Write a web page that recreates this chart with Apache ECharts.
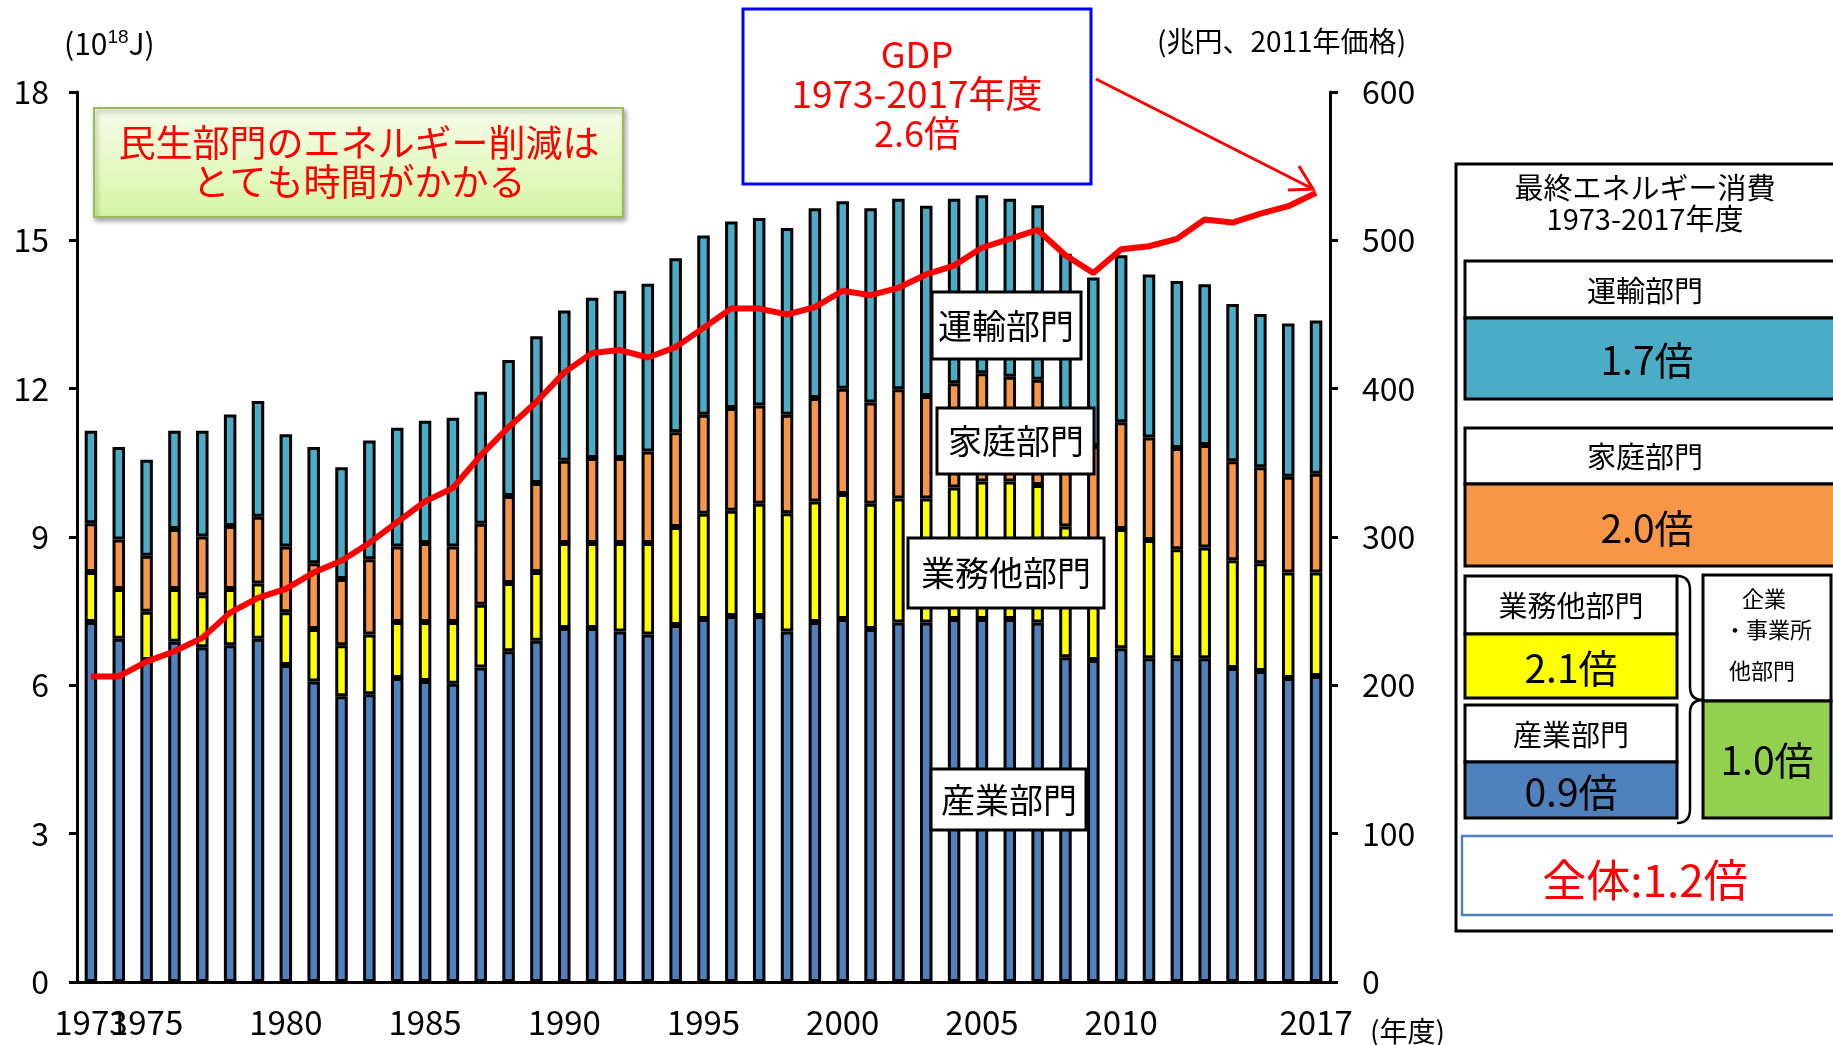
<html>
<head>
<meta charset="utf-8">
<script src="https://cdn.jsdelivr.net/npm/echarts@6/dist/echarts.min.js"></script>
<style>
html, body { width: 100%; height: 100%; margin: 0; background: #fff; }
#main { width: 1833px; height: 1045px; }
</style>
</head>
<body>
<div id="main"></div>
<script>
// 年度
var years = [];
for (var y = 1973; y <= 2017; y++) years.push(String(y));
var shownYears = ['1973', '1975', '1980', '1985', '1990', '1995', '2000', '2005', '2010', '2017'];

// 最終エネルギー消費 (10^18 J)
var industry = [7.28, 6.94, 6.51, 6.88, 6.77, 6.81, 6.94, 6.41, 6.08, 5.78, 5.82, 6.15, 6.09, 6.03, 6.36, 6.69, 6.90, 7.16, 7.16, 7.09, 7.03, 7.22, 7.34, 7.40, 7.40, 7.09, 7.28, 7.34, 7.14, 7.27, 7.27, 7.34, 7.34, 7.34, 7.27, 6.57, 6.51, 6.75, 6.55, 6.55, 6.55, 6.35, 6.29, 6.15, 6.19];
var commercial = [1.01, 1.01, 0.98, 1.07, 1.05, 1.14, 1.12, 1.07, 1.06, 1.03, 1.21, 1.13, 1.19, 1.25, 1.27, 1.38, 1.39, 1.72, 1.72, 1.79, 1.85, 1.98, 2.13, 2.13, 2.27, 2.39, 2.44, 2.53, 2.53, 2.51, 2.51, 2.66, 2.78, 2.78, 2.78, 2.64, 2.39, 2.41, 2.39, 2.20, 2.24, 2.18, 2.18, 2.13, 2.09];
var household = [0.99, 1.00, 1.13, 1.21, 1.19, 1.27, 1.35, 1.33, 1.33, 1.34, 1.52, 1.53, 1.60, 1.53, 1.64, 1.76, 1.80, 1.66, 1.72, 1.72, 1.85, 1.92, 2.00, 2.08, 1.99, 1.99, 2.09, 2.13, 2.05, 2.21, 2.07, 2.11, 2.19, 2.12, 2.13, 2.04, 1.94, 2.16, 2.07, 2.05, 2.07, 2.00, 1.94, 1.94, 2.00];
var transport = [1.87, 1.87, 1.94, 1.99, 2.14, 2.26, 2.34, 2.27, 2.35, 2.26, 2.40, 2.40, 2.47, 2.60, 2.67, 2.75, 2.97, 3.04, 3.24, 3.38, 3.39, 3.52, 3.63, 3.77, 3.79, 3.78, 3.84, 3.79, 3.93, 3.85, 3.85, 3.73, 3.60, 3.60, 3.53, 3.48, 3.41, 3.38, 3.30, 3.38, 3.25, 3.18, 3.10, 3.10, 3.10];
// GDP (兆円、2011年価格)
var gdp = [206, 206, 216, 223, 232, 249, 259, 265, 276, 284, 296, 310, 324, 333, 355, 374, 391, 411, 424, 426, 421, 428, 441, 454, 454, 450, 455, 466, 463, 468, 477, 483, 495, 501, 507, 490, 478, 494, 496, 501, 514, 512, 518, 523, 532];

var FONT = '"Noto Sans CJK JP", "Noto Sans", sans-serif';

function barSeries(name, data, color) {
    return {
        name: name, type: 'bar', stack: 'e', data: data, barWidth: 12.5,
        itemStyle: { color: color, borderColor: '#000', borderWidth: 3 },
        z: 2
    };
}

function box(x, y, w, h, fill, stroke, lw) {
    return { type: 'rect', shape: { x: x, y: y, width: w, height: h },
             style: { fill: fill, stroke: stroke || '#000', lineWidth: lw || 3 }, z: 10 };
}
function txt(x, y, s, size, color, align) {
    return { type: 'text', x: x, y: y, z: 11,
             style: { text: s, font: size + 'px ' + FONT, fill: color || '#000',
                      align: align || 'center', verticalAlign: 'middle' } };
}
function curve(x1, y1, cx, cy, x2, y2) {
    return { type: 'bezierCurve', z: 11,
             shape: { x1: x1, y1: y1, cpx1: cx, cpy1: cy, x2: x2, y2: y2 },
             style: { stroke: '#000', lineWidth: 2.5, fill: null } };
}
function seg(x1, y1, x2, y2, color, lw) {
    return { type: 'line', z: 11, shape: { x1: x1, y1: y1, x2: x2, y2: y2 },
             style: { stroke: color || '#000', lineWidth: lw || 2.5 } };
}

var chart = echarts.init(document.getElementById('main'));
var option = {
    animation: false,
    textStyle: { fontFamily: FONT },
    grid: { left: 77, right: 503, top: 92, bottom: 63 },
    xAxis: {
        type: 'category', data: years,
        axisLine: { lineStyle: { color: '#000', width: 3 } },
        axisTick: { interval: 0, length: 9, lineStyle: { color: '#000', width: 2.5 } },
        axisLabel: {
            interval: 0, margin: 24, fontSize: 33, color: '#000', fontFamily: FONT,
            formatter: function (v) { return shownYears.indexOf(v) >= 0 ? v : ''; }
        }
    },
    yAxis: [
        {
            type: 'value', min: 0, max: 18, interval: 3,
            axisLine: { show: true, lineStyle: { color: '#000', width: 3 } },
            axisTick: { show: true, length: 8, lineStyle: { color: '#000', width: 3 } },
            axisLabel: { fontSize: 32, color: '#000', margin: 28, fontFamily: FONT },
            splitLine: { show: false }
        },
        {
            type: 'value', min: 0, max: 600, interval: 100,
            axisLine: { show: true, lineStyle: { color: '#000', width: 3 } },
            axisTick: { show: true, length: 8, lineStyle: { color: '#000', width: 3 } },
            axisLabel: { fontSize: 32, color: '#000', margin: 32, fontFamily: FONT },
            splitLine: { show: false }
        }
    ],
    series: [
        barSeries('産業部門', industry, '#4f81bd'),
        barSeries('業務他部門', commercial, '#ffff00'),
        barSeries('家庭部門', household, '#f79646'),
        barSeries('運輸部門', transport, '#4bacc6'),
        {
            name: 'GDP', type: 'line', yAxisIndex: 1, data: gdp, symbol: 'none',
            lineStyle: { color: '#ff0000', width: 6 }, z: 5
        }
    ],
    graphic: [
        // axis names
        { type: 'text', x: 64, y: 44, z: 11, style: {
            text: '(10{s|18}J)', font: '30px ' + FONT, fill: '#000', verticalAlign: 'middle',
            rich: { s: { fontSize: 19, verticalAlign: 'top', padding: [0, 0, 12, 0] } } } },
        txt(1157, 41, '(兆円、2011年価格)', 28, '#000', 'left'),
        txt(1370, 1031, '(年度)', 28, '#000', 'left'),

        // green note
        { type: 'rect', shape: { x: 94, y: 108, width: 529, height: 109 }, z: 10,
          style: {
            fill: new echarts.graphic.LinearGradient(0, 0, 0, 1, [
                { offset: 0, color: '#f6fdea' }, { offset: 1, color: '#d6f5a4' }]),
            stroke: '#9bbb59', lineWidth: 2,
            shadowBlur: 5, shadowOffsetX: 2, shadowOffsetY: 3, shadowColor: 'rgba(0,0,0,0.35)' } },
        txt(359, 143, '民生部門のエネルギー削減は', 37, '#ff0000'),
        txt(359, 182, 'とても時間がかかる', 37, '#ff0000'),

        // GDP note
        box(743, 9, 348, 175, '#fff', '#0000ff', 3),
        txt(917, 54, 'GDP', 36, '#ff0000'),
        txt(917, 94, '1973-2017年度', 37, '#ff0000'),
        txt(917, 133, '2.6倍', 36, '#ff0000'),
        seg(1096, 79, 1313, 189, '#ff0000', 3),
        { type: 'polyline', z: 11, shape: { points: [[1299, 166], [1313, 189], [1288, 190]] },
          style: { stroke: '#ff0000', lineWidth: 3, fill: null } },

        // sector labels
        box(932, 292, 149, 67, '#fff'), txt(1006, 326, '運輸部門', 34),
        box(937, 408, 157, 66, '#fff'), txt(1016, 441, '家庭部門', 34),
        box(908, 538, 196, 70, '#fff'), txt(1006, 573, '業務他部門', 34),
        box(931, 769, 155, 61, '#fff'), txt(1009, 800, '産業部門', 34),

        // right panel
        box(1456, 164, 420, 767, '#fff', '#000', 3),
        txt(1645, 188, '最終エネルギー消費', 29),
        txt(1645, 219, '1973-2017年度', 29),

        box(1465, 261, 400, 57, '#fff'), txt(1645, 291, '運輸部門', 29),
        box(1465, 318, 400, 81, '#4bacc6'), txt(1647, 360, '1.7倍', 39),

        box(1465, 428, 400, 56, '#fff'), txt(1645, 457, '家庭部門', 29),
        box(1465, 484, 400, 82, '#f79646'), txt(1647, 528, '2.0倍', 39),

        box(1465, 576, 212, 58, '#fff'), txt(1571, 606, '業務他部門', 29),
        box(1465, 634, 212, 64, '#ffff00'), txt(1571, 668, '2.1倍', 39),

        box(1465, 705, 212, 57, '#fff'), txt(1571, 735, '産業部門', 29),
        box(1465, 762, 212, 56, '#4f81bd'), txt(1571, 792, '0.9倍', 39),

        // brace
        curve(1677, 576, 1690, 576, 1690, 590),
        seg(1690, 590, 1690, 687),
        curve(1690, 687, 1690, 700, 1703, 700),
        curve(1703, 700, 1690, 700, 1690, 713),
        seg(1690, 713, 1690, 809),
        curve(1690, 809, 1690, 823, 1677, 823),

        box(1703, 575, 128, 126, '#fff'),
        txt(1764, 599, '企業', 22),
        txt(1768, 630, '・事業所', 22),
        txt(1762, 671, '他部門', 22),
        box(1703, 701, 128, 117, '#92d050'), txt(1767, 760, '1.0倍', 39),

        box(1462, 836, 400, 79, '#fff', '#4f81bd', 2.5),
        txt(1645, 880, '全体:1.2倍', 44, '#ff0000')
    ]
};
chart.setOption(option);
window.onresize = chart.resize;
</script>
</body>
</html>
